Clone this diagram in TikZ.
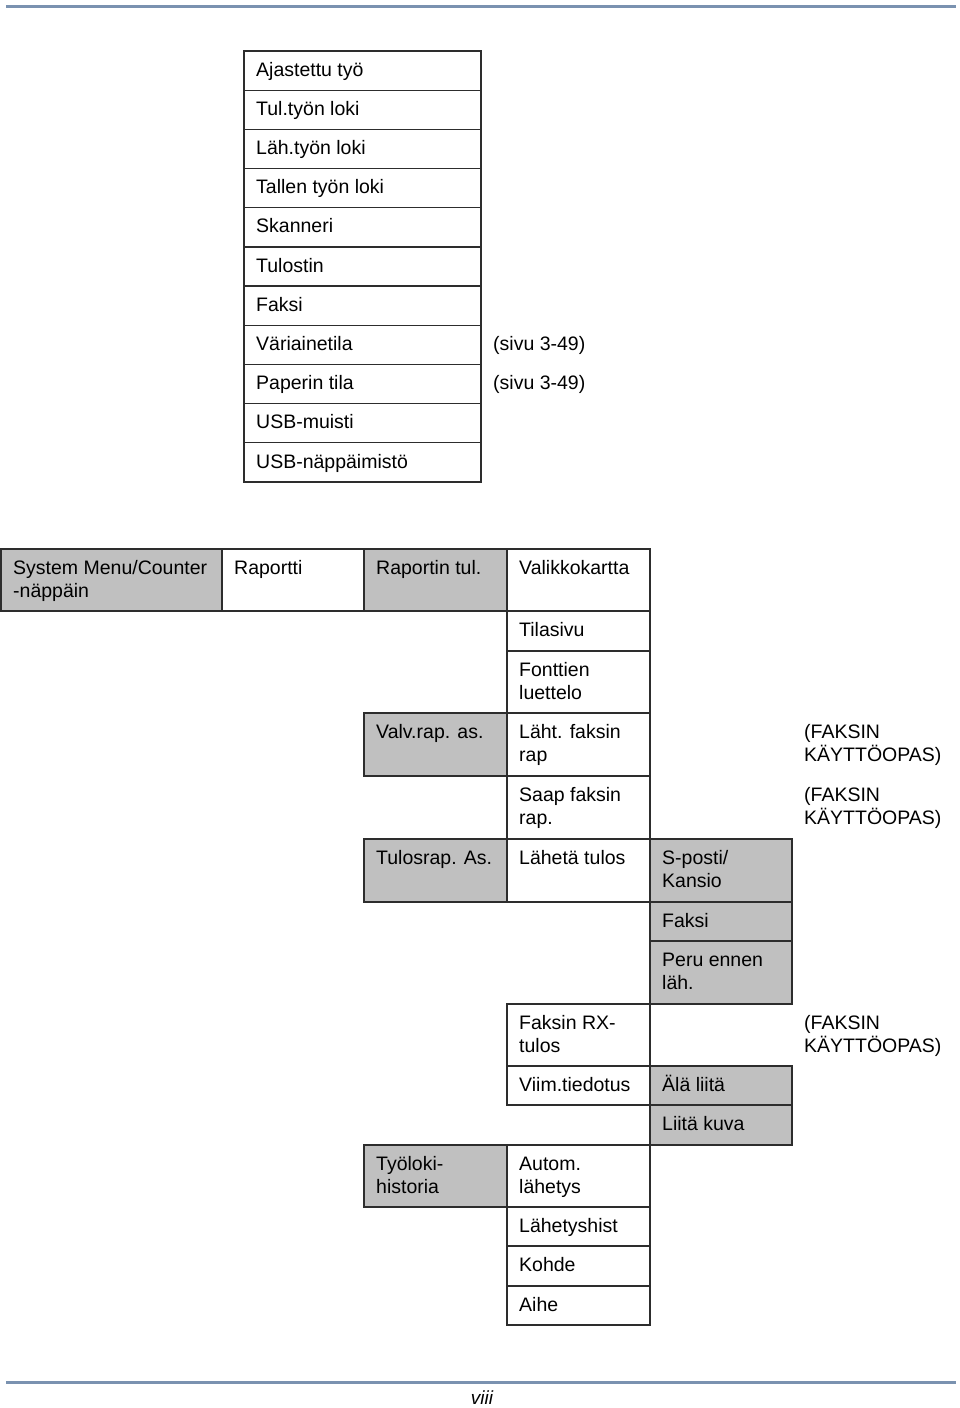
\documentclass[tikz,border=0pt]{standalone}
\usepackage{fontspec}
\setmainfont{Liberation Sans}
\definecolor{rulecol}{RGB}{122,146,176}
\definecolor{cellgray}{RGB}{192,192,192}
\definecolor{edge}{RGB}{45,45,45}
\tikzset{
  cellbox/.style={draw=edge, line width=1.2pt},
  grayfill/.style={fill=cellgray},
  whitefill/.style={fill=white},
  txt/.style={anchor=north west, inner sep=0pt, align=left,
    font=\fontsize{19.5}{23}\selectfont},
  hrule/.style={draw=rulecol, line width=3pt}
}
\newcommand\fl{\rule{0pt}{18pt}}
\newcommand\mcell[7]{%
  \draw[cellbox,#5] (#1,#2) rectangle (#3,#4);
  \node[txt] (#7) at (#1+12,#2+7) {\fl#6};
}
\begin{document}
\begin{tikzpicture}[x=1pt,y=-1pt]
\useasboundingbox (0,0) rectangle (960,1408);
% top and bottom rules
\coordinate (tl) at (6,6); \coordinate (tr) at (956,6);
\draw[hrule] (tl) -- (tr);
\coordinate (bl) at (6,1382); \coordinate (br) at (956,1382);
\draw[hrule] (bl) -- (br);
\node[font=\fontsize{19}{22}\selectfont\itshape] (page) at (482,1398) {viii};
% top table
\foreach \t [count=\i from 0] in {Ajastettu työ,Tul.työn loki,Läh.työn loki,Tallen työn loki,Skanneri,Tulostin,Faksi,Väriainetila,Paperin tila,USB-muisti,USB-näppäimistö}{
  \pgfmathsetmacro\ya{51+39.18*\i}
  \pgfmathsetmacro\yb{51+39.18*(\i+1)}
  \draw[cellbox] (244,\ya) rectangle (481,\yb);
  \node[txt] (top\i) at (256,\ya+7) {\fl\t};
}
\node[txt] (sivu1) at (493,325+7) {\fl(sivu 3-49)};
\node[txt] (sivu2) at (493,364+7) {\fl(sivu 3-49)};
% main table
\mcell{1}{549}{222}{611}{grayfill}{System Menu/Counter\\-näppäin}{c1}
\mcell{222}{549}{364}{611}{whitefill}{Raportti}{c2}
\mcell{364}{549}{507}{611}{grayfill}{Raportin tul.}{c3}
\mcell{507}{549}{650}{611}{whitefill}{Valikkokartta}{c4}
\mcell{507}{611}{650}{651}{whitefill}{Tilasivu}{c5}
\mcell{507}{651}{650}{713}{whitefill}{Fonttien\\luettelo}{c6}
\mcell{364}{713}{507}{776}{grayfill}{Valv.rap. as.}{c7}
\mcell{507}{713}{650}{776}{whitefill}{Läht. faksin\\rap}{c8}
\mcell{507}{776}{650}{839}{whitefill}{Saap faksin\\rap.}{c9}
\mcell{364}{839}{507}{902}{grayfill}{Tulosrap. As.}{c10}
\mcell{507}{839}{650}{902}{whitefill}{Lähetä tulos}{c11}
\mcell{650}{839}{792}{902}{grayfill}{S-posti/\\Kansio}{c12}
\mcell{650}{902}{792}{941}{grayfill}{Faksi}{c13}
\mcell{650}{941}{792}{1004}{grayfill}{Peru ennen\\läh.}{c14}
\mcell{507}{1004}{650}{1066}{whitefill}{Faksin RX-\\tulos}{c15}
\mcell{507}{1066}{650}{1105}{whitefill}{Viim.tiedotus}{c16}
\mcell{650}{1066}{792}{1105}{grayfill}{Älä liitä}{c17}
\mcell{650}{1105}{792}{1145}{grayfill}{Liitä kuva}{c18}
\mcell{364}{1145}{507}{1207}{grayfill}{Työloki-\\historia}{c19}
\mcell{507}{1145}{650}{1207}{whitefill}{Autom.\\lähetys}{c20}
\mcell{507}{1207}{650}{1246}{whitefill}{Lähetyshist}{c21}
\mcell{507}{1246}{650}{1286}{whitefill}{Kohde}{c22}
\mcell{507}{1286}{650}{1325}{whitefill}{Aihe}{c23}
% side notes
\node[txt] (fk1) at (804,713+7) {\fl(FAKSIN\\KÄYTTÖOPAS)};
\node[txt] (fk2) at (804,776+7) {\fl(FAKSIN\\KÄYTTÖOPAS)};
\node[txt] (fk3) at (804,1004+7) {\fl(FAKSIN\\KÄYTTÖOPAS)};
\end{tikzpicture}
\end{document}
